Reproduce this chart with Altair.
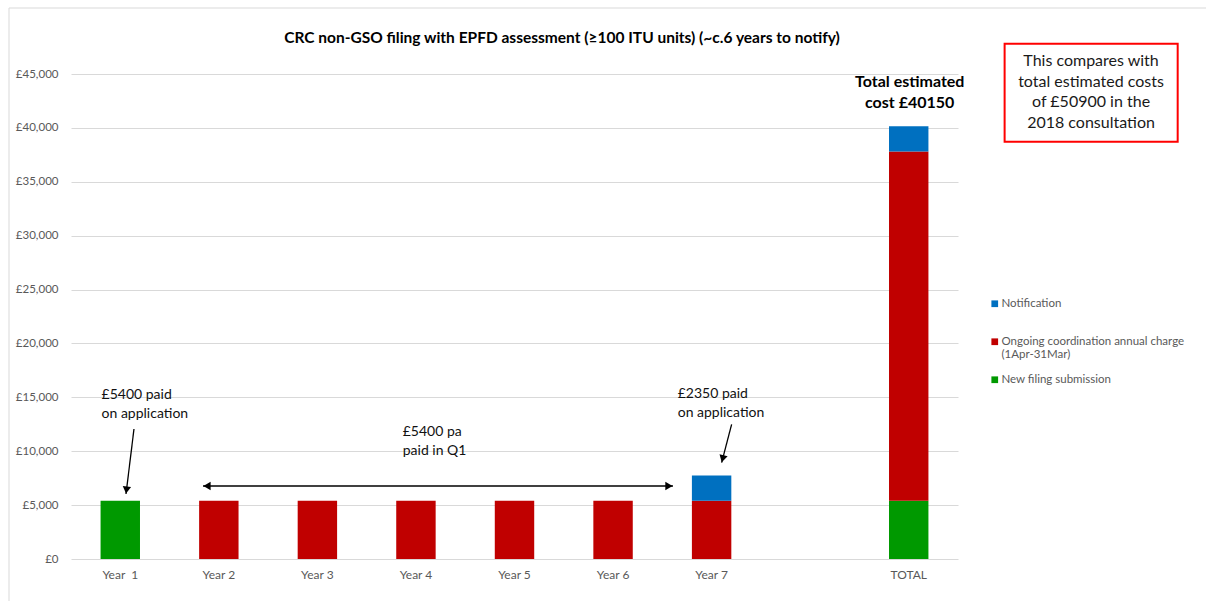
import altair as alt
import pandas as pd

# ---- chart values -------------------------------------------------------
categories = ["Year\u00a0\u00a01", "Year 2", "Year 3", "Year 4", "Year 5",
              "Year 6", "Year 7", " ", "TOTAL"]
series_names = ["New filing submission",
                "Ongoing coordination annual charge (1Apr-31Mar)",
                "Notification"]
series_colors = ["#009900", "#C00000", "#0070C0"]
new_filing = [5400, 0, 0, 0, 0, 0, 0, 0, 5400]
ongoing = [0, 5400, 5400, 5400, 5400, 5400, 5400, 0, 32400]
notification = [0, 0, 0, 0, 0, 0, 2350, 0, 2350]
y_ticks = [0, 5000, 10000, 15000, 20000, 25000, 30000, 35000, 40000, 45000]

title_text = "CRC non-GSO filing with EPFD assessment (\u2265100 ITU units) (~c.6 years to notify)"

# long table for the stacked bars
rows = []
for rank, (name, vals) in enumerate(zip(series_names, [new_filing, ongoing, notification])):
    for cat, v in zip(categories, vals):
        if v:
            rows.append({"cat": cat, "series": name, "value": v, "rank": rank})
bars_df = pd.DataFrame(rows)

# ---- annotations (x in category slots, y in £) ----------------------------
notes = pd.DataFrame({
    "text": ["\u00a35400 paid\non application", "\u00a35400 pa\npaid in Q1",
             "\u00a32350 paid\non application"],
    "sx": [0.31, 3.366, 6.156],
    "vy": [15866, 12414, 15940],
})
total_note = pd.DataFrame({"text": ["Total estimated\ncost \u00a340150"],
                           "sx": [8.51], "vy": [45000]})
box_note = pd.DataFrame({"text": ["This compares with\ntotal estimated costs\nof \u00a350900 in the\n2018 consultation"],
                         "sx": [10.35], "vy": [46948]})
box_frame = pd.DataFrame({"sx": [9.473], "sx2": [11.229], "vy": [47811], "vy2": [38718]})
title_df = pd.DataFrame({"text": [title_text]})

arrow_lines = pd.DataFrame({
    "sx": [0.639, 1.339, 6.703],
    "sx2": [0.558, 6.108, 6.602],
    "vy": [12062, 6773, 12498],
    "vy2": [6031, 6773, 8935],
})
arrow_heads = pd.DataFrame({
    "sx": [0.563, 1.380, 6.067, 6.612],
    "vy": [6402, 6773, 6773, 9297],
    "shape": ["triangle-down", "triangle-left", "triangle-right", "triangle-down"],
    "ang": [7, 0, 0, 14.6],
})

FONT = "Lato"
W, H = 887, 485

ys = alt.Scale(domain=[0, 45000], nice=False, zero=True)
sxs = alt.Scale(domain=[0, 9], nice=False, zero=False)

legend_label = (
    "datum.label == 'Ongoing coordination annual charge (1Apr-31Mar)' ? "
    "['Ongoing coordination annual charge', '(1Apr-31Mar)'] : "
    "datum.label == 'Notification' ? ['Notification', ''] : datum.label"
)

bars = alt.Chart(bars_df).mark_bar().encode(
    x=alt.X("cat:N", sort=categories,
            scale=alt.Scale(domain=categories, paddingInner=0.6, paddingOuter=0.3),
            axis=alt.Axis(title=None, labelAngle=0, domain=False, ticks=False, tickSize=0,
                          labelPadding=10, labelFont=FONT, labelFontSize=12,
                          labelColor="#595959", grid=False)),
    y=alt.Y("value:Q", stack="zero", scale=ys,
            axis=alt.Axis(title=None, values=y_ticks, domain=False, ticks=False, tickSize=0,
                          labelPadding=13, labelFont=FONT, labelFontSize=11.5,
                          labelColor="#595959", gridColor="#d9d9d9", gridWidth=1,
                          labelExpr="'\u00a3' + format(datum.value, ',')")),
    color=alt.Color("series:N",
                    scale=alt.Scale(domain=series_names, range=series_colors),
                    legend=alt.Legend(title=None, orient="none", legendX=918, legendY=224,
                                      values=[series_names[2], series_names[1], series_names[0]],
                                      symbolType="square", symbolSize=45, symbolStrokeWidth=0,
                                      labelFont=FONT, labelFontSize=11.5, labelColor="#595959",
                                      labelLimit=400, rowPadding=12, labelOffset=1,
                                      labelExpr=legend_label)),
    order=alt.Order("rank:Q"),
)

note_marks = alt.Chart(notes).mark_text(
    align="left", baseline="top", font=FONT, fontSize=14, lineHeight=19,
    lineBreak="\n", color="#111111"
).encode(x=alt.X("sx:Q", scale=sxs, axis=None), y=alt.Y("vy:Q", scale=ys), text="text:N")

total_marks = alt.Chart(total_note).mark_text(
    align="center", baseline="top", font=FONT, fontSize=16, fontWeight="bold",
    lineHeight=21, lineBreak="\n", color="#000000"
).encode(x=alt.X("sx:Q", scale=sxs, axis=None), y=alt.Y("vy:Q", scale=ys), text="text:N")

frame_marks = alt.Chart(box_frame).mark_rect(
    fill="white", stroke="#ff0000", strokeWidth=2
).encode(x=alt.X("sx:Q", scale=sxs, axis=None), x2="sx2:Q",
         y=alt.Y("vy:Q", scale=ys), y2="vy2:Q")

box_marks = alt.Chart(box_note).mark_text(
    align="center", baseline="top", font=FONT, fontSize=16, lineHeight=20.7,
    lineBreak="\n", color="#1a1a1a"
).encode(x=alt.X("sx:Q", scale=sxs, axis=None), y=alt.Y("vy:Q", scale=ys), text="text:N")

line_marks = alt.Chart(arrow_lines).mark_rule(color="#000000", strokeWidth=1.3).encode(
    x=alt.X("sx:Q", scale=sxs, axis=None), x2="sx2:Q",
    y=alt.Y("vy:Q", scale=ys), y2="vy2:Q")

head_marks = alt.Chart(arrow_heads).mark_point(
    filled=True, color="#000000", size=70, opacity=1
).encode(x=alt.X("sx:Q", scale=sxs, axis=None), y=alt.Y("vy:Q", scale=ys),
         shape=alt.Shape("shape:N", scale=None), angle=alt.Angle("ang:Q", scale=None))

# chart heading, placed above the plot area
title_marks = alt.Chart(title_df).mark_text(
    align="center", baseline="middle", font=FONT, fontSize=15.5, fontWeight="bold",
    color="#000000"
).encode(x=alt.value(491), y=alt.value(-36), text="text:N")

# light outer frame of the chart area
frame_top = alt.Chart(pd.DataFrame({"k": [0]})).mark_rule(color="#d9d9d9", strokeWidth=1).encode(
    x=alt.value(-62), x2=alt.value(1135), y=alt.value(-66))
frame_left = alt.Chart(pd.DataFrame({"k": [0]})).mark_rule(color="#d9d9d9", strokeWidth=1).encode(
    x=alt.value(-62), y=alt.value(-66), y2=alt.value(527))

chart = alt.layer(
    bars, frame_marks, box_marks, note_marks, total_marks, line_marks, head_marks,
    title_marks, frame_top, frame_left
).resolve_scale(x="independent").properties(
    width=W, height=H,
    autosize=alt.AutoSizeParams(type="none"),
    padding={"left": 71, "top": 74, "right": 248, "bottom": 42},
).configure(background="white").configure_view(strokeOpacity=0)

chart.save("out.html", embed_options={"renderer": "svg", "actions": False})
